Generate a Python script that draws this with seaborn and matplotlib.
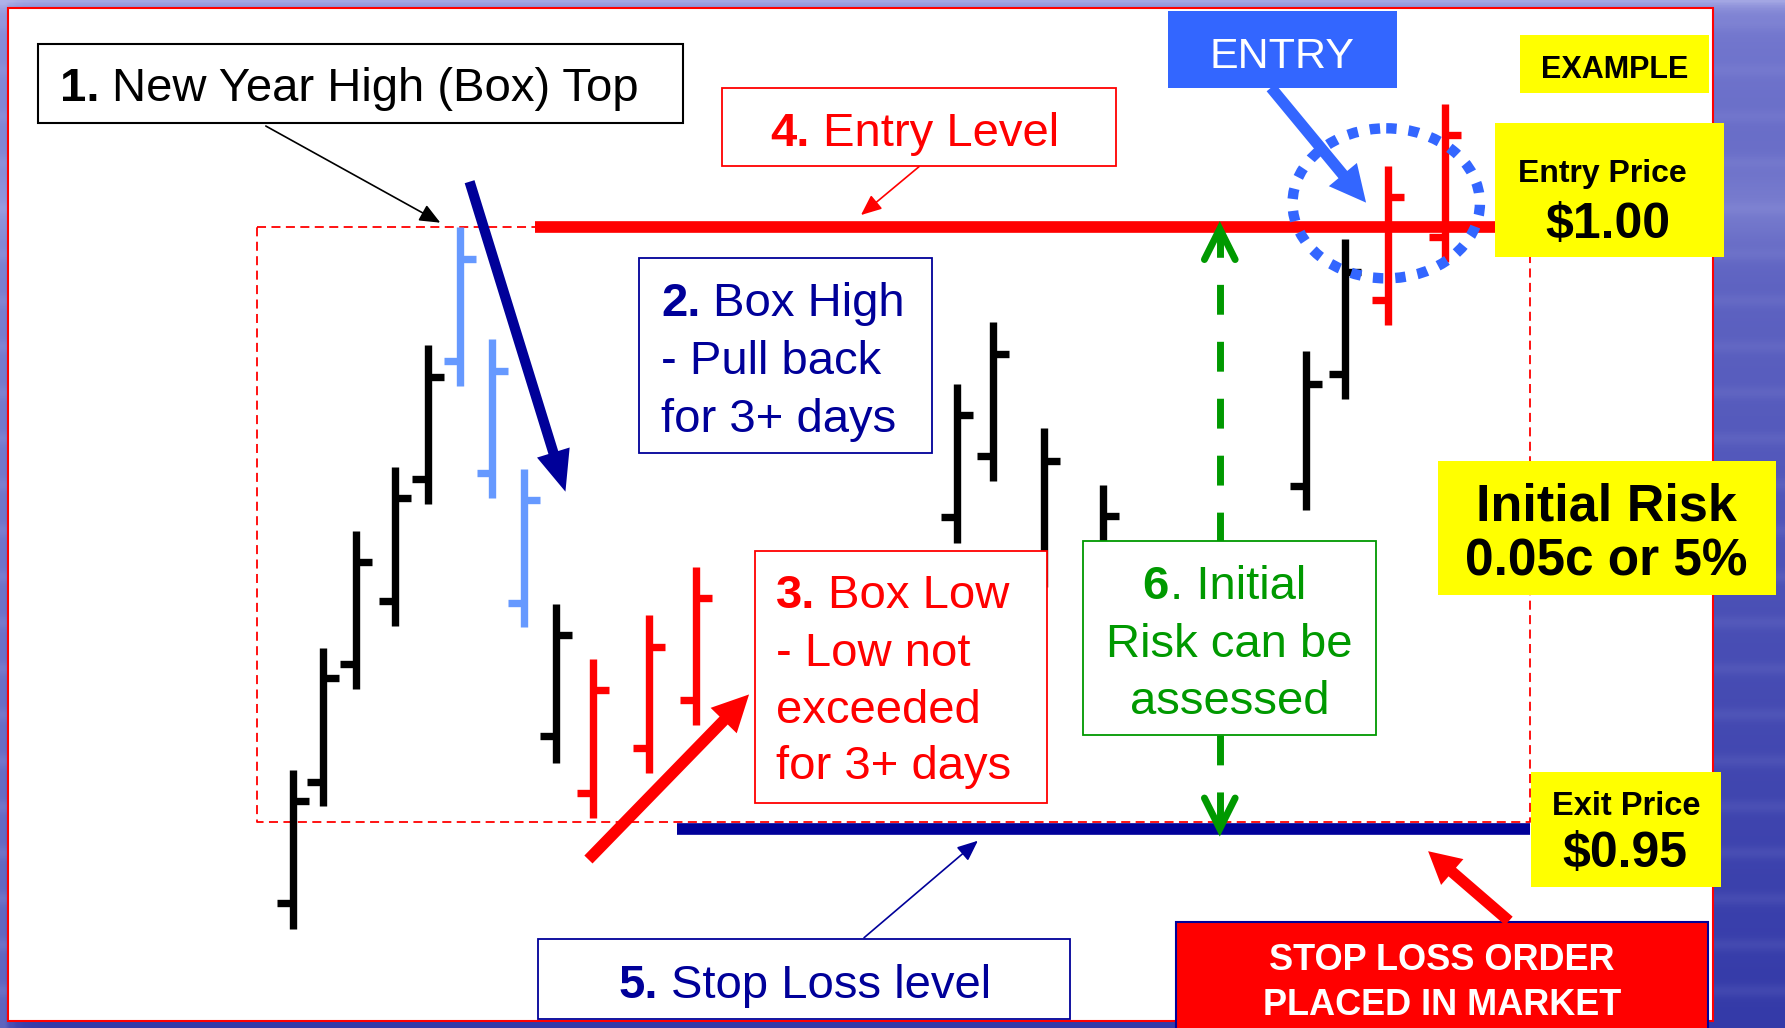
import numpy as np
import matplotlib
matplotlib.use("Agg")
import matplotlib.pyplot as plt
import seaborn as sns
from matplotlib.patches import Rectangle, Ellipse, FancyArrow

# ---------------- data ----------------
day = [0.0, 0.94, 1.96, 3.15, 4.16, 5.14, 6.14, 7.12, 8.09, 9.22,
       10.96, 12.39, 20.40, 21.52, 23.08, 24.88, 31.13, 32.33, 33.65, 35.40]
high = [0.9549, 0.9650, 0.9748, 0.9801, 0.9902, 1.0000, 0.9907, 0.9799, 0.9687, 0.9641,
        0.9678, 0.9718, 0.9870, 0.9921, 0.9833, 0.9786, 0.9897, 0.9990, 1.0051, 1.0103]
low = [0.9417, 0.9519, 0.9616, 0.9669, 0.9770, 0.9868, 0.9775, 0.9668, 0.9555, 0.9509,
       0.9546, 0.9586, 0.9738, 0.9789, 0.9701, 0.9654, 0.9765, 0.9857, 0.9919, 0.9971]
open_ = [0.9438, 0.9539, 0.9637, 0.9689, 0.9791, 0.9889, 0.9796, 0.9688, 0.9577, 0.9530,
         0.9567, 0.9607, 0.9759, 0.9810, 0.9721, 0.9675, 0.9785, 0.9878, 0.9940, 0.9992]
close = [0.9523, 0.9625, 0.9722, 0.9775, 0.9876, 0.9974, 0.9881, 0.9773, 0.9661, 0.9615,
         0.9651, 0.9692, 0.9844, 0.9895, 0.9806, 0.9760, 0.9870, 0.9963, 1.0025, 1.0077]
phase = ["trend"] * 5 + ["pullback"] * 3 + ["trend"] + ["boxlow"] * 3 + ["trend"] * 6 + ["breakout"] * 2
entry_price = 1.00
exit_price = 0.95
box_high = 1.00
box_low = 0.9506

# ---------------- style ----------------
sns.set_theme(style="white")
plt.rcParams["font.family"] = ["Liberation Sans", "DejaVu Sans"]

RED = "#FF0000"
NAVY = "#000099"
GREEN = "#009900"
LBLUE = "#6699FF"
EBLUE = "#3366FF"
YEL = "#FFFF00"
palette = {"trend": "black", "pullback": LBLUE, "boxlow": RED, "breakout": RED}

W, H = 1568, 903          # layout units (reference pixels, scaled)
PX_DAY = 28.6             # layout units per day
DAY0_X = 257.0
PX_PRICE = 10564.0        # layout units per $1
P1_Y = 199.8

fig = plt.figure(figsize=(17.85, 10.28), dpi=100)
ax = fig.add_axes([0, 0, 1, 1])
ax.set_xlim(0, W)
ax.set_ylim(H, 0)
ax.axis("off")

# background (blue slide texture)
ys = np.linspace(0, 1, 400)[:, None, None]
xs = np.linspace(0, 1, 240)[None, :, None]
top_c = np.array([118, 122, 208]) / 255
bot_c = np.array([52, 58, 168]) / 255
light = np.array([175, 178, 232]) / 255
img = top_c + (bot_c - top_c) * ys ** 0.8 + 0 * xs
wgt = np.clip(0.8 * np.exp(-ys / 0.01) + 0.35 * np.exp(-xs / 0.006)
              + 0.25 * np.exp(-((ys - 0.2) / 0.04) ** 2)
              + 0.10 * np.sin(ys * 70) ** 10, 0, 1)
img = img + (light - img) * wgt
ax.imshow(np.clip(img, 0, 1), extent=[0, W, H, 0], aspect="auto", zorder=0)

ax.add_patch(Rectangle((7, 7), 1498, 890, fc="white", ec=RED, lw=1.5, zorder=1))

# price axes
ax2 = fig.add_axes([0, 0, 1, 1], facecolor="none")
ax2.axis("off")

TICK = 14 / PX_DAY
cols = [palette[p] for p in phase]
d = np.array(day)
bar_lw = 5.3
main_idx = [i for i in range(len(d)) if i != 15]
hid_idx = [15]
for idx, z in ((main_idx, 5), (hid_idx, 2.5)):
    dd = d[idx]
    cc = [cols[i] for i in idx]
    lc = ax2.vlines(dd, [low[i] for i in idx], [high[i] for i in idx], colors=cc, lw=bar_lw, zorder=z)
    lc.set_capstyle("butt")
    lc = ax2.hlines([open_[i] for i in idx], dd - TICK, dd, colors=cc, lw=bar_lw, zorder=z)
    lc.set_capstyle("butt")
    lc = ax2.hlines([close[i] for i in idx], dd, dd + TICK, colors=cc, lw=bar_lw, zorder=z)
    lc.set_capstyle("butt")


def dx(px):
    return (px - DAY0_X) / PX_DAY


# dashed box
bx0, bx1 = dx(226), dx(1344)
ax2.plot([bx0, bx1, bx1, bx0, bx0], [box_high, box_high, box_low, box_low, box_high],
         color=RED, lw=1.3, dashes=(5, 3), zorder=2)
# entry / stop lines
sns.lineplot(x=[dx(470), dx(1313)], y=[entry_price, entry_price], ax=ax2,
             color=RED, lw=8.4, zorder=4, solid_capstyle="butt")
sns.lineplot(x=[dx(595), dx(1344)], y=[exit_price, exit_price], ax=ax2,
             color=NAVY, lw=8.4, zorder=4, solid_capstyle="butt")

ax2.set_xlim(dx(0), dx(W))
ax2.set_ylim(1.0 - (H - P1_Y) / PX_PRICE, 1.0 + P1_Y / PX_PRICE)
ax2.set_xlabel("")
ax2.set_ylabel("")

# ---------------- annotations (layout axes on top) ----------------
ax3 = fig.add_axes([0, 0, 1, 1], facecolor="none")
ax3.set_xlim(0, W)
ax3.set_ylim(H, 0)
ax3.axis("off")
ax.set_zorder(0)
ax2.set_zorder(1)
ax3.set_zorder(2)


def box(x0, y0, x1, y1, ec=None, fc="white", lw=1.3, z=3):
    ax3.add_patch(Rectangle((x0, y0), x1 - x0, y1 - y0, fc=fc,
                            ec=ec if ec else "none", lw=lw, zorder=z))


def label(x, y, s, size, color, weight="normal", ha="left", z=8):
    return ax3.text(x, y, s, fontsize=size, color=color, fontweight=weight,
                    ha=ha, va="baseline", zorder=z, parse_math=False)


def mixed(x, y, bold, rest, size, color, gap=9.0, z=8):
    t = label(x, y, bold, size, color, "bold", z=z)
    ax3.annotate(rest, xy=(1, 0), xycoords=t, xytext=(gap, 0), textcoords="offset points",
                 fontsize=size, color=color, ha="left", va="bottom", zorder=z,
                 annotation_clip=False)


# boxes
box(33, 39, 600, 108, ec="black", lw=1.5)
box(634, 77, 980, 146, ec=RED)
box(561, 227, 819, 398, ec=NAVY)
box(663, 484, 920, 705, ec=RED)
box(473, 825, 940, 895, ec=NAVY)
box(1026, 10, 1227, 77, fc=EBLUE)
box(1335, 31, 1501, 82, fc=YEL)
box(1313, 108, 1514, 226, fc=YEL)
box(1263, 405, 1560, 523, fc=YEL)
box(1345, 678, 1512, 779, fc=YEL)
box(1033, 810, 1500, 915, fc=RED, ec=NAVY, lw=1.5)

# texts
FS = 34
mixed(52.7, 89, "1.", "New Year High (Box) Top", FS, "black")
mixed(677, 128, "4.", "Entry Level", FS, RED)
mixed(580.7, 277.6, "2.", "Box High", FS, NAVY)
label(580.7, 328.5, "- Pull back", FS, NAVY)
label(580.7, 379.2, "for 3+ days", FS, NAVY)
mixed(681.7, 534.4, "3.", "Box Low", FS, RED)
label(681.7, 584.8, "- Low not", FS, RED)
label(681.7, 635, "exceeded", FS, RED)
label(681.7, 684.7, "for 3+ days", FS, RED)
mixed(543.6, 876.3, "5.", "Stop Loss level", FS, NAVY)
label(1126.5, 60, "ENTRY", 31, "white", ha="center")
label(1418.3, 68.8, "EXAMPLE", 22, "black", "bold", "center")
label(1407.8, 159.6, "Entry Price", 23, "black", "bold", "center")
label(1412.7, 209.3, "$1.00", 36, "black", "bold", "center")
label(1411, 457, "Initial Risk", 37.5, "black", "bold", "center")
label(1410.6, 505.8, "0.05c or 5%", 37, "black", "bold", "center")
label(1428.3, 715.7, "Exit Price", 23.5, "black", "bold", "center")
label(1427.6, 761.6, "$0.95", 36, "black", "bold", "center")
label(1266.2, 851.8, "STOP LOSS ORDER", 26, "white", "bold", "center")
label(1266.8, 891.6, "PLACED IN MARKET", 26, "white", "bold", "center")

# thick arrows
for (x0, y0, x1, y1, c, w, hw, hl) in [
    (412.5, 159.6, 496.7, 431.9, NAVY, 9, 30, 36),
    (516.9, 755, 658, 610, RED, 10, 32, 32),
    (1116.5, 77, 1200, 178, EBLUE, 10, 32, 32),
    (1325.5, 809, 1254.5, 747.7, RED, 10, 30, 28),
]:
    ax3.add_patch(FancyArrow(x0, y0, x1 - x0, y1 - y0, width=w, head_width=hw, head_length=hl,
                             length_includes_head=True, color=c, lw=0, zorder=7))

# thin arrows
for (x0, y0, x1, y1, c) in [
    (233.5, 110.7, 386.8, 195.6, "black"),
    (807.3, 146.4, 756.3, 188.9, RED),
    (759, 823.7, 859, 738.5, NAVY),
]:
    ax3.annotate("", xy=(x1, y1), xytext=(x0, y0),
                 arrowprops=dict(arrowstyle="-|>,head_length=0.7,head_width=0.3",
                                 mutation_scale=18, color=c, lw=1.2, shrinkA=0, shrinkB=0),
                 zorder=7)

# green dashed double arrow
GX = 1071.5
ax3.plot([GX, GX], [476, 203], color=GREEN, lw=5, dashes=(4.3, 3.9), zorder=6,
         dash_capstyle="butt")
ax3.plot([GX, GX], [646, 727], color=GREEN, lw=5, dashes=(4.3, 3.9), zorder=6,
         dash_capstyle="butt")
ax3.plot([GX - 13.5, GX, GX + 13.5], [228, 201, 228], color=GREEN, lw=5, zorder=6,
         solid_capstyle="round", solid_joinstyle="miter")
ax3.plot([GX - 13.5, GX, GX + 13.5], [701, 728, 701], color=GREEN, lw=5, zorder=6,
         solid_capstyle="round", solid_joinstyle="miter")
box(951, 475, 1209, 646, ec=GREEN, z=6.5)
mixed(1003.7, 526.4, "6", ". Initial", FS, GREEN, gap=0.5, z=8)
label(1080, 576.8, "Risk can be", FS, GREEN, ha="center")
label(1080, 627, "assessed", FS, GREEN, ha="center")

# dotted circle
ax3.add_patch(Ellipse((1217.7, 178.6), 164.6, 131.8, fill=False, ec=EBLUE, lw=7.5,
                      linestyle=(0, (1, 1.15)), zorder=6.8))

fig.savefig("out.png", dpi=100)
